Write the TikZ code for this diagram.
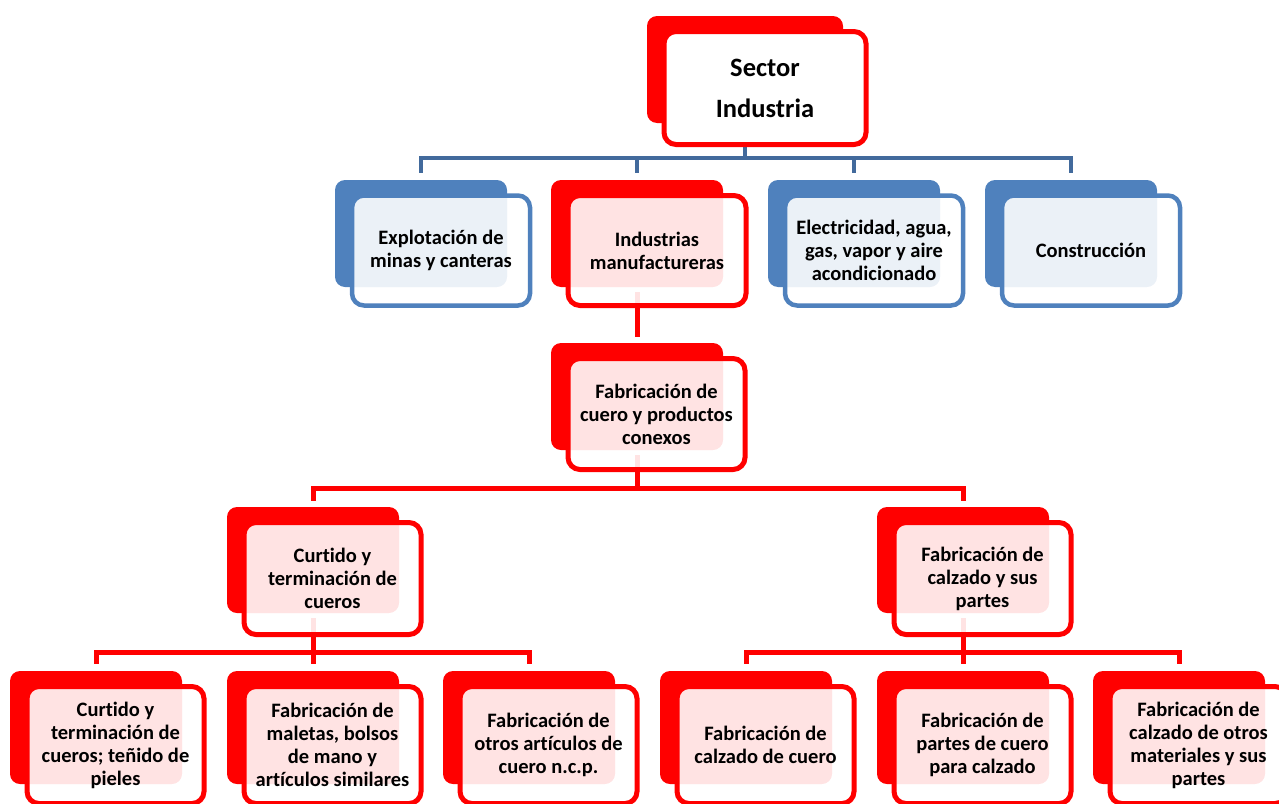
\documentclass[tikz,border=0pt]{standalone}
\usepackage{fontspec}
\setmainfont{Carlito}[Ligatures=NoCommon]
\pgfdeclarelayer{bg}
\pgfsetlayers{bg,main}
\definecolor{ired}{RGB}{255,0,0}
\definecolor{iblue}{RGB}{79,129,189}
\definecolor{iline}{RGB}{66,106,156}
\tikzset{
  backbox/.style={rounded corners=10pt, inner sep=0pt, draw=none},
  frontbox/.style={rounded corners=12pt, inner sep=0pt, line width=5pt, fill=white,
    fill opacity=0.89, draw opacity=1, text opacity=1, align=center, text=black,
    font=\bfseries\fontsize{20.5}{23}\selectfont},
  redback/.style={backbox, fill=ired},
  blueback/.style={backbox, fill=iblue},
  topback/.style={backbox, fill=ired},
  redfront/.style={frontbox, draw=ired},
  bluefront/.style={frontbox, draw=iblue, line width=4.5pt},
  topfront/.style={frontbox, draw=ired, fill opacity=1, font=\bfseries\fontsize{26.5}{41}\selectfont},
  redlink/.style={draw=ired, line width=5pt},
  bluelink/.style={draw=iline, line width=4pt},
}
% #1 name, #2 back left x, #3 back top y, #4 back width, #5 back height,
% #6 front outer width, #7 front outer height, #8 colour style prefix, #9 text
\newcommand{\mkunit}[9]{%
  \node[#8back, minimum width=#4pt, minimum height=#5pt] (#1b) at ({#2+#4/2},{#3+#5/2}) {};
  \node[#8front, minimum width={#6-5}, minimum height={#7-5}] (#1f) at ({#2+14.5+#6/2},{#3+13+#7/2}) {#9};
}
\begin{document}
\begin{tikzpicture}[x=1pt,y=-1pt]
\useasboundingbox (0,0) rectangle (1279,803);
% top
\mkunit{t}{647}{16}{196}{107}{207}{118}{top}{Sector\\Industria}
% row 1
\mkunit{ma}{335}{180}{172}{107}{183}{115}{blue}{Explotación de\\minas y canteras}
\mkunit{mb}{551}{180}{172}{107}{183}{115}{red}{Industrias\\manufactureras}
\mkunit{mc}{768}{180}{172}{107}{183}{115}{blue}{Electricidad, agua,\\gas, vapor y aire\\acondicionado}
\mkunit{md}{985}{180}{172}{107}{183}{115}{blue}{Construcción}
% row 2
\mkunit{f}{551}{343}{172}{107}{182}{116}{red}{Fabricación de\\cuero y productos\\conexos}
% row 3
\mkunit{ca}{227}{507}{172}{106}{182}{117}{red}{Curtido y\\terminación de\\cueros}
\mkunit{cb}{877}{507}{172}{106}{182}{117}{red}{Fabricación de\\calzado y sus\\partes}
% row 4
\mkunit{da}{10}{671}{172}{113}{182}{122}{red}{Curtido y\\terminación de\\cueros; teñido de\\pieles}
\mkunit{db}{227}{671}{172}{113}{182}{122}{red}{Fabricación de\\maletas, bolsos\\de mano y\\artículos similares}
\mkunit{dc}{443}{671}{172}{113}{182}{122}{red}{Fabricación de\\otros artículos de\\cuero n.c.p.}
\mkunit{dd}{660}{671}{172}{113}{182}{122}{red}{Fabricación de\\calzado de cuero}
\mkunit{de}{877}{671}{172}{113}{182}{122}{red}{Fabricación de\\partes de cuero\\para calzado}
\mkunit{df}{1093}{671}{172}{113}{182}{122}{red}{Fabricación de\\calzado de otros\\materiales y sus\\partes}
% connectors
\coordinate (busA) at (0,158);
\coordinate (busB) at (0,488);
\coordinate (busC) at (0,652);
\begin{pgfonlayer}{bg}
\foreach \c in {ma,mb,mc,md}
  \draw[bluelink] ([yshift=-5pt]tb.south) -- (tb.south |- busA) -| ([yshift=7pt]\c b.north);
\draw[redlink] ([yshift=-5pt]mbb.south) -- ([yshift=6pt]fb.north);
\foreach \c in {ca,cb}
  \draw[redlink] ([yshift=-5pt]fb.south) -- (fb.south |- busB) -| ([yshift=6pt]\c b.north);
\foreach \c in {da,db,dc}
  \draw[redlink] ([yshift=-5pt]cab.south) -- (cab.south |- busC) -| ([yshift=7pt]\c b.north);
\foreach \c in {dd,de,df}
  \draw[redlink] ([yshift=-5pt]cbb.south) -- (cbb.south |- busC) -| ([yshift=7pt]\c b.north);
\end{pgfonlayer}
\end{tikzpicture}
\end{document}
